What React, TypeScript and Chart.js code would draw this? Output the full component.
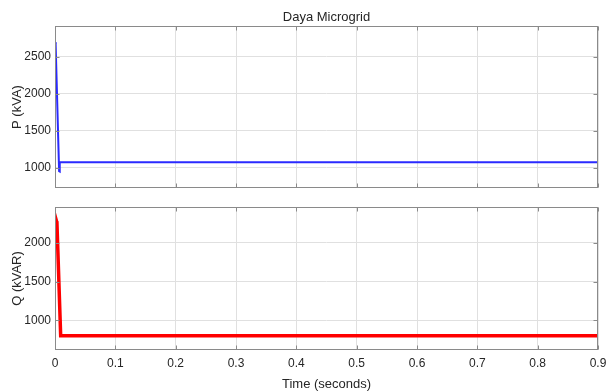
import React, { useEffect, useRef } from "react";
import { Chart, registerables } from "chart.js";

Chart.register(...registerables);

const chartTitle = "Daya Microgrid";
const xTitle = "Time (seconds)";
const pTitle = "P (kVA)";
const qTitle = "Q (kVAR)";

const timeP = [0, 0.001, 0.0068, 0.0075, 0.0082, 0.9];
const valueP = [2700, 2680, 955, 950, 1075, 1075];

const timeQ = [0, 0.0008, 0.0015, 0.0025, 0.0032, 0.0094, 0.9];
const valueQ = [2000, 2280, 2050, 2280, 2260, 800, 800];

const xTicks = [0, 0.1, 0.2, 0.3, 0.4, 0.5, 0.6, 0.7, 0.8, 0.9];
const pTicks = [1000, 1500, 2000, 2500];
const qTicks = [1000, 1500, 2000];

const xMin = 0;
const xMax = 0.9;
const pMin = 726;
const pMax = 2915;
const qMin = 617;
const qMax = 2464;

const FONT = "'Liberation Sans', Arial, Helvetica, sans-serif";
const TEXT = "#262626";
const GRID = "#e0e0e0";
const BOX = "#8a8a8a";

const boxPlugin = {
  id: "boxPlugin",
  afterDraw(chart: any) {
    const { ctx, chartArea } = chart;
    const L = Math.round(chartArea.left) + 0.5;
    const T = Math.round(chartArea.top) + 0.5;
    const R = Math.round(chartArea.right) - 0.5;
    const B = Math.round(chartArea.bottom) - 0.5;
    ctx.save();
    ctx.strokeStyle = BOX;
    ctx.lineWidth = 1;
    ctx.strokeRect(L, T, R - L, B - T);
    const tl = 4;
    ctx.beginPath();
    const xs = chart.scales.x;
    xs.ticks.forEach((t: any) => {
      const px = Math.round(xs.getPixelForValue(t.value)) + 0.5;
      ctx.moveTo(px, B);
      ctx.lineTo(px, B - tl);
      ctx.moveTo(px, T);
      ctx.lineTo(px, T + tl);
    });
    const ys = chart.scales.y;
    ys.ticks.forEach((t: any) => {
      const py = Math.round(ys.getPixelForValue(t.value)) + 0.5;
      ctx.moveTo(L, py);
      ctx.lineTo(L + tl, py);
      ctx.moveTo(R, py);
      ctx.lineTo(R - tl, py);
    });
    ctx.stroke();
    ctx.restore();
  },
};

const titlePlugin = {
  id: "titlePlugin",
  afterDraw(chart: any) {
    const t = chart.options.plugins.titlePlugin;
    if (!t || !t.text) return;
    const { ctx, chartArea } = chart;
    ctx.save();
    ctx.fillStyle = TEXT;
    ctx.font = `13px ${FONT}`;
    ctx.textAlign = "center";
    ctx.textBaseline = "alphabetic";
    ctx.fillText(t.text, (chartArea.left + chartArea.right) / 2, 21);
    ctx.restore();
  },
};

function makeConfig(
  xs: number[],
  ys: number[],
  color: string,
  width: number,
  yMin: number,
  yMax: number,
  yTicks: number[],
  yTitle: string,
  showX: boolean,
  topPad: number,
  rightPad: number,
  xHeight: number,
  title: string
): any {
  return {
    type: "line",
    data: {
      datasets: [
        {
          data: xs.map((x, i) => ({ x, y: ys[i] })),
          borderColor: color,
          borderWidth: width,
          pointRadius: 0,
          tension: 0,
          fill: false,
        },
      ],
    },
    options: {
      animation: false,
      responsive: false,
      maintainAspectRatio: false,
      layout: { padding: { top: topPad, right: rightPad, left: 0, bottom: 0 } },
      plugins: {
        legend: { display: false },
        tooltip: { enabled: false },
        title: { display: false },
        titlePlugin: { text: title },
      },
      scales: {
        x: {
          type: "linear",
          min: xMin,
          max: xMax,
          border: { display: false },
          grid: { color: GRID, drawTicks: false, lineWidth: 1 },
          afterBuildTicks: (s: any) => {
            s.ticks = xTicks.map((v) => ({ value: v }));
          },
          ticks: {
            display: showX,
            color: TEXT,
            font: { family: FONT, size: 12 },
            padding: 6,
            maxRotation: 0,
            autoSkip: false,
            callback: (v: number) => String(Number(Number(v).toFixed(1))),
          },
          title: {
            display: showX,
            text: xTitle,
            color: TEXT,
            font: { family: FONT, size: 13 },
            padding: { top: 3, bottom: 0 },
          },
          afterFit: (s: any) => {
            s.height = xHeight;
            s.paddingLeft = 0;
            s.paddingRight = 0;
          },
        },
        y: {
          type: "linear",
          min: yMin,
          max: yMax,
          border: { display: false },
          grid: { color: GRID, drawTicks: false, lineWidth: 1 },
          afterBuildTicks: (s: any) => {
            s.ticks = yTicks.map((v) => ({ value: v }));
          },
          ticks: {
            color: TEXT,
            font: { family: FONT, size: 12 },
            padding: 4,
            autoSkip: false,
            callback: (v: number) => String(v),
          },
          title: {
            display: true,
            text: yTitle,
            color: TEXT,
            font: { family: FONT, size: 13 },
            padding: { top: 10, bottom: 0 },
          },
          afterFit: (s: any) => {
            s.width = 55;
            s.paddingTop = 0;
            s.paddingBottom = 0;
          },
        },
      },
    },
    plugins: [boxPlugin, titlePlugin],
  };
}

export default function App() {
  const topRef = useRef<HTMLCanvasElement>(null);
  const botRef = useRef<HTMLCanvasElement>(null);

  useEffect(() => {
    const c1 = new Chart(
      topRef.current as HTMLCanvasElement,
      makeConfig(timeP, valueP, "#2a2aff", 2, pMin, pMax, pTicks, pTitle, false, 26, 10, 8, chartTitle)
    );
    const c2 = new Chart(
      botRef.current as HTMLCanvasElement,
      makeConfig(timeQ, valueQ, "#ff0000", 3.5, qMin, qMax, qTicks, qTitle, true, 11, 10, 42, "")
    );
    return () => {
      c1.destroy();
      c2.destroy();
    };
  }, []);

  return (
    <div
      style={{
        position: "fixed",
        left: 0,
        top: 0,
        width: 608,
        height: 392,
        background: "#ffffff",
      }}
    >
      <canvas
        ref={topRef}
        width={608}
        height={196}
        style={{ position: "absolute", left: 0, top: 0, width: 608, height: 196 }}
      />
      <canvas
        ref={botRef}
        width={608}
        height={196}
        style={{ position: "absolute", left: 0, top: 196, width: 608, height: 196 }}
      />
    </div>
  );
}
